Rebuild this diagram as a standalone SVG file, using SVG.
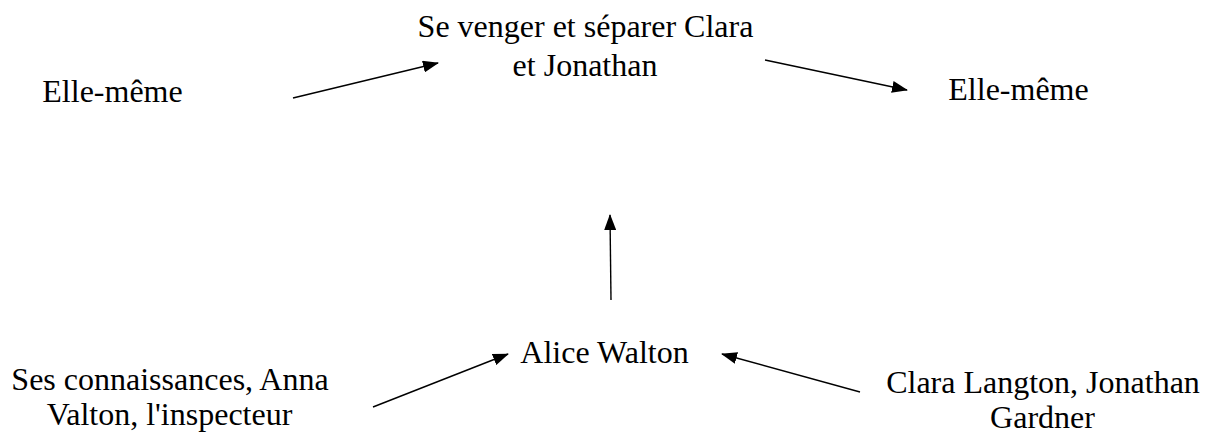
<svg xmlns="http://www.w3.org/2000/svg" width="1209" height="440" viewBox="0 0 1209 440">
<style>
text{font-family:"Liberation Serif","Times New Roman",serif;font-size:32px;fill:#000;text-anchor:middle}
.c{stroke:#000;stroke-width:1.4;fill:none;marker-end:url(#ah)}
</style>
<defs>
<marker id="ah" viewBox="0 0 16 12" refX="15" refY="6" markerWidth="16" markerHeight="12" markerUnits="userSpaceOnUse" orient="auto">
<path d="M0,0 L16,6 L0,12 Z" fill="#000"/>
</marker>
</defs>
<rect width="1209" height="440" fill="#fff"/>
<g id="n-goal"><text x="585.5" y="37">Se venger et séparer Clara</text><text x="585" y="76">et Jonathan</text></g>
<g id="n-sender"><text x="112.5" y="102">Elle-même</text></g>
<g id="n-receiver"><text x="1018.5" y="100">Elle-même</text></g>
<g id="n-subject"><text x="604.5" y="363">Alice Walton</text></g>
<g id="n-helpers"><text x="170" y="390">Ses connaissances, Anna</text><text x="169.5" y="425">Valton, l'inspecteur</text></g>
<g id="n-opponents"><text x="1043" y="393">Clara Langton, Jonathan</text><text x="1042.5" y="428">Gardner</text></g>
<g id="connectors">
<line class="c" x1="293" y1="98" x2="438" y2="63"/>
<line class="c" x1="765" y1="60" x2="907" y2="90"/>
<line class="c" x1="611" y1="300" x2="610" y2="215"/>
<line class="c" x1="373" y1="407" x2="508" y2="354"/>
<line class="c" x1="860" y1="392" x2="722" y2="354"/>
</g>
</svg>
